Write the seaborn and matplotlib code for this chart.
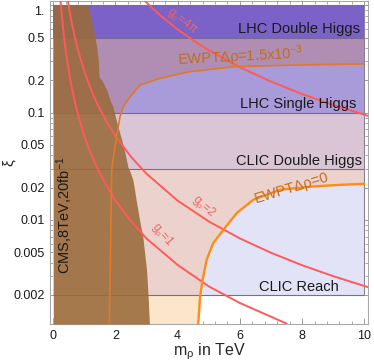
import numpy as np
import matplotlib
matplotlib.use("Agg")
import matplotlib.pyplot as plt
import seaborn as sns

# --- data --------------------------------------------------------------
# experimental bands: lower edge in xi (all run up to xi = 1, m_rho <= 10)
band_lo = [0.002, 0.03, 0.1, 0.5]
band_names = ["CLIC Reach", "CLIC Double Higgs", "LHC Single Higgs", "LHC Double Higgs"]

# EWPT contours (m_rho in TeV, xi)
ewpt0_m = [4.66, 4.72, 4.80, 4.93, 5.14, 5.47, 5.90, 6.43, 7.29, 8.36, 9.20, 10.0]
ewpt0_xi = [0.00107, 0.00192, 0.00275, 0.00425, 0.00605, 0.00807, 0.0116, 0.0154, 0.0191,
            0.0205, 0.0212, 0.0217]
ewpt15_m = [1.80, 1.84, 1.878, 1.95, 2.02, 2.07, 2.145, 2.25, 2.47, 2.79, 3.43, 4.39, 5.78, 7.80, 10.0]
ewpt15_xi = [0.00107, 0.0052, 0.0292, 0.042, 0.0557, 0.069, 0.0916, 0.114, 0.141, 0.181, 0.209,
             0.241, 0.268, 0.278, 0.285]

# g_rho lines
g1_m = [0.235, 0.26, 0.3, 0.35, 0.4, 0.5, 0.6, 0.7, 0.8, 1.0, 1.2, 1.5, 2.0, 2.5, 3.0, 4.0, 5.0, 6.0, 7.5]
g1_xi = [1.1, 0.895, 0.672, 0.494, 0.378, 0.242, 0.168, 0.123, 0.0945, 0.0605, 0.042, 0.0269,
         0.0151, 0.0097, 0.0067, 0.0038, 0.0024, 0.00168, 0.00108]
g2_m = [0.47, 0.52, 0.6, 0.7, 0.8, 1.0, 1.2, 1.4, 1.7, 2.0, 2.5, 3.0, 4.0, 5.0, 6.0, 7.0, 8.0, 9.0, 10.12]
g2_xi = [1.1, 0.895, 0.672, 0.494, 0.378, 0.242, 0.168, 0.123, 0.0837, 0.0605, 0.0387, 0.0269,
         0.0151, 0.00968, 0.00672, 0.00494, 0.00378, 0.00299, 0.00236]
g4pi_m = [2.95, 3.2, 3.5, 4.0, 4.5, 5.0, 6.0, 7.0, 8.0, 9.0, 10.12]
g4pi_xi = [1.1, 0.933, 0.78, 0.597, 0.472, 0.382, 0.265, 0.195, 0.149, 0.118, 0.0933]

# CMS 8 TeV exclusion boundary
cms_xi = [1.0, 0.85, 0.629, 0.507, 0.41, 0.31, 0.215, 0.202, 0.163, 0.131, 0.113, 0.095, 0.0737,
          0.0557, 0.042, 0.0312, 0.028, 0.0236, 0.0144, 0.0094, 0.0069, 0.0034, 0.00191, 0.00107]
cms_m = [1.125, 1.18, 1.276, 1.34, 1.395, 1.447, 1.47, 1.556, 1.717, 1.823, 1.92, 1.984, 2.08,
         2.2, 2.306, 2.4, 2.47, 2.56, 2.68, 2.79, 2.88, 3.0, 3.05, 3.09]

y_ticks = [0.002, 0.005, 0.01, 0.02, 0.05, 0.1, 0.2, 0.5, 1.0]
y_ticklabels = ["0.002", "0.005", "0.01", "0.02", "0.05", "0.1", "0.2", "0.5", ""]

M_MAX = 10.0
Y_MIN, Y_MAX = 0.00107, 1.099


def curve_m(xi, m_pts, xi_pts):
    return np.interp(np.log10(xi), np.log10(xi_pts), m_pts, right=M_MAX)


sns.set_style("ticks")
plt.rcParams["font.family"] = ["Liberation Sans", "DejaVu Sans"]
plt.rcParams["mathtext.default"] = "regular"

fig = plt.figure(figsize=(3.74, 3.64), dpi=100)
ax = fig.add_axes([50 / 374, 40 / 364, 318 / 374, 323 / 364])
ax.set_yscale("log")
ax.set_xlim(-0.106, 10.12)
ax.set_ylim(Y_MIN, Y_MAX)

# region colours
c_peach = "#fde5cc"
c_reach = "#e3e3f8"
c_reach_ew = "#ecd2cc"
c_clic_dh = "#d9c5d5"
c_lhc_sh = "#a99ad9"
c_lhc_sh_ew = "#b08db3"
c_lhc_dh = "#7a62c8"

ys = np.geomspace(Y_MIN, band_lo[0], 100)
ax.fill_betweenx(ys, 0, curve_m(ys, ewpt0_m, ewpt0_xi), color=c_peach, lw=0)

ax.fill_between([0, M_MAX], band_lo[0], band_lo[1], color=c_reach, lw=0)
ys = np.geomspace(band_lo[0], band_lo[1], 200)
ax.fill_betweenx(ys, 0, curve_m(ys, ewpt0_m, ewpt0_xi), color=c_reach_ew, lw=0)

ax.fill_between([0, M_MAX], band_lo[1], band_lo[2], color=c_clic_dh, lw=0)

ax.fill_between([0, M_MAX], band_lo[2], band_lo[3], color=c_lhc_sh, lw=0)
ys = np.geomspace(band_lo[2], band_lo[3], 200)
ax.fill_betweenx(ys, 0, curve_m(ys, ewpt15_m, ewpt15_xi), color=c_lhc_sh_ew, lw=0)

ax.fill_between([0, M_MAX], band_lo[3], 1.0, color=c_lhc_dh, lw=0)

# band outlines
ax.hlines(band_lo + [1.0], 0, M_MAX, colors="#7a6c8c", lw=0.8, zorder=2)
ax.vlines(M_MAX, band_lo[0], 1.0, colors="#8a8098", lw=0.8, zorder=2)

# CMS exclusion
ax.fill_betweenx(cms_xi, 0, cms_m, color="#9a6a3a", alpha=0.88, lw=0, zorder=3)

# curves
red = "#ff5a5a"
for m, xi in [(g1_m, g1_xi), (g2_m, g2_xi), (g4pi_m, g4pi_xi)]:
    sns.lineplot(x=m, y=xi, ax=ax, color=red, lw=1.4, sort=False, estimator=None, zorder=4)
sns.lineplot(x=ewpt15_m, y=ewpt15_xi, ax=ax, color="#e07a28", lw=1.2, sort=False,
             estimator=None, zorder=4)
sns.lineplot(x=ewpt0_m, y=ewpt0_xi, ax=ax, color="#ff8c14", lw=1.7, sort=False,
             estimator=None, zorder=4)

# text labels
txt = dict(fontsize=10.5, color="#1a1a1a", zorder=5)
ax.text(9.87, 0.603, "LHC Double Higgs", ha="right", va="center", **txt)
ax.text(9.76, 0.12, "LHC Single Higgs", ha="right", va="center", **txt)
ax.text(9.93, 0.0355, "CLIC Double Higgs", ha="right", va="center", **txt)
ax.text(9.19, 0.00239, "CLIC Reach", ha="right", va="center", **txt)
ax.text(0.376, 0.0111, "CMS,8TeV,20fb$^{-1}$", rotation=90, ha="center", va="center", **txt)

ew_col = "#c06e1c"
ax.text(3.98, 0.33, "EWPTΔρ=1.5x10$^{-3}$", color=ew_col, fontsize=10.5, rotation=3,
        ha="left", va="center", zorder=5)
ax.text(7.68, 0.0200, "EWPTΔρ=0", color=ew_col, fontsize=10.5, rotation=17,
        ha="center", va="center", zorder=5)

g_col = "#f06464"
ax.text(4.14, 0.715, "g$_\\rho$=4π", color=g_col, fontsize=8.5, rotation=-38,
        ha="center", va="center", zorder=5)
ax.text(4.82, 0.0132, "g$_\\rho$=2", color=g_col, fontsize=8.5, rotation=-42,
        ha="center", va="center", zorder=5)
ax.text(3.5, 0.0072, "g$_\\rho$=1", color=g_col, fontsize=8.5, rotation=-50,
        ha="center", va="center", zorder=5)

# axes styling
ax.set_xticks(np.arange(0, 11, 2))
ax.set_xticks(np.arange(0, 10.01, 0.4), minor=True)
ax.set_yticks(y_ticks)
ax.set_yticklabels(y_ticklabels)
ax.annotate("1.", xy=(0, 1.0), xycoords=("axes fraction", "data"), xytext=(-4, -5),
            textcoords="offset points", ha="right", va="center", fontsize=9, color="#1a1a1a")
ax.tick_params(which="both", direction="in", top=True, right=True, color="#9a9a9a",
               labelcolor="#1a1a1a")
ax.tick_params(which="major", length=4, width=0.7, labelsize=9, pad=4)
ax.tick_params(which="minor", length=2, width=0.6)
for s in ax.spines.values():
    s.set_color("#a8a8a8")
    s.set_linewidth(0.8)

ax.set_xlabel("m$_\\rho$ in TeV", fontsize=11.5, labelpad=0)
ax.set_ylabel("ξ", fontsize=11)
ax.yaxis.set_label_coords(-0.108, 0.5)

fig.savefig("out.png", dpi=100)
plt.close(fig)
